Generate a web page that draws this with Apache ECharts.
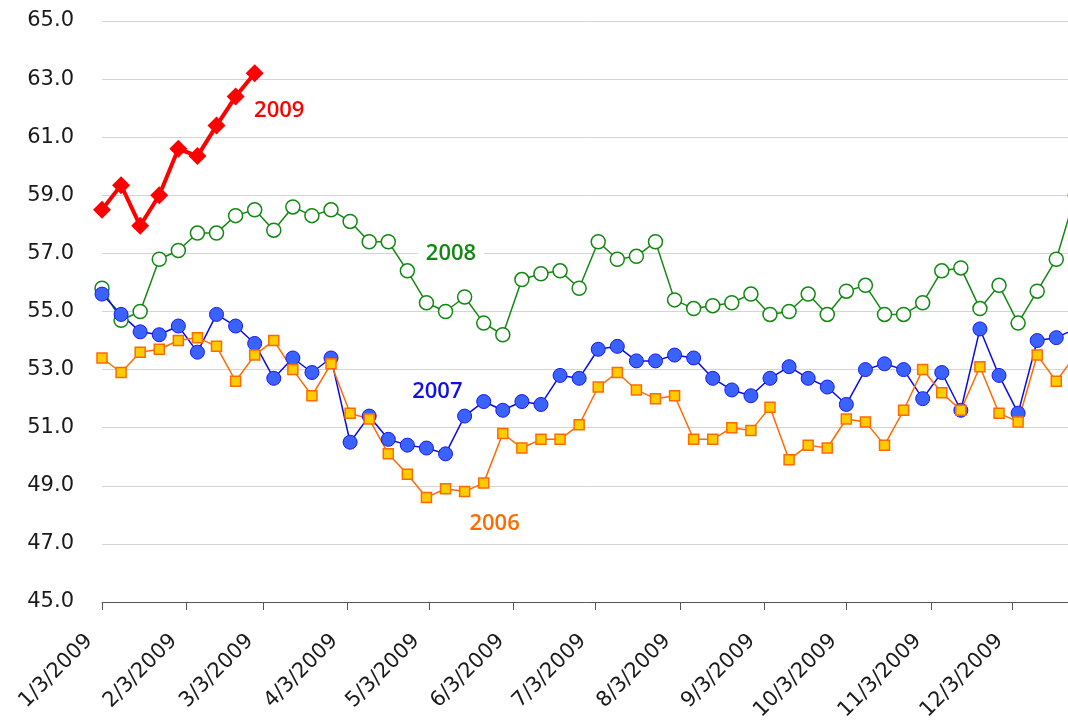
<!DOCTYPE html>
<html>
<head>
<meta charset="utf-8">
<script src="https://cdn.jsdelivr.net/npm/echarts@6/dist/echarts.min.js"></script>
<style>
html,body{margin:0;padding:0;background:#fff;overflow:hidden;}
#chart{width:1068px;height:723px;}
</style>
</head>
<body>
<div id="chart"></div>
<script>
// ---- data ----
var startDate = '2009-01-03';
var endDate = '2009-12-31';
var yTicks = [45, 47, 49, 51, 53, 55, 57, 59, 61, 63, 65];

var s2006 = [53.4, 52.9, 53.6, 53.7, 54.0, 54.1, 53.8, 52.6, 53.5, 54.0, 53.0, 52.1, 53.2,
  51.5, 51.3, 50.1, 49.4, 48.6, 48.9, 48.8, 49.1, 50.8, 50.3, 50.6, 50.6, 51.1,
  52.4, 52.9, 52.3, 52.0, 52.1, 50.6, 50.6, 51.0, 50.9, 51.7, 49.9, 50.4, 50.3,
  51.3, 51.2, 50.4, 51.6, 53.0, 52.2, 51.6, 53.1, 51.5, 51.2, 53.5, 52.6, 53.5];
var s2007 = [55.6, 54.9, 54.3, 54.2, 54.5, 53.6, 54.9, 54.5, 53.9, 52.7, 53.4, 52.9, 53.4,
  50.5, 51.4, 50.6, 50.4, 50.3, 50.1, 51.4, 51.9, 51.6, 51.9, 51.8, 52.8, 52.7,
  53.7, 53.8, 53.3, 53.3, 53.5, 53.4, 52.7, 52.3, 52.1, 52.7, 53.1, 52.7, 52.4,
  51.8, 53.0, 53.2, 53.0, 52.0, 52.9, 51.6, 54.4, 52.8, 51.5, 54.0, 54.1, 54.4];
var s2008 = [55.8, 54.7, 55.0, 56.8, 57.1, 57.7, 57.7, 58.3, 58.5, 57.8, 58.6, 58.3, 58.5,
  58.1, 57.4, 57.4, 56.4, 55.3, 55.0, 55.5, 54.6, 54.2, 56.1, 56.3, 56.4, 55.8,
  57.4, 56.8, 56.9, 57.4, 55.4, 55.1, 55.2, 55.3, 55.6, 54.9, 55.0, 55.6, 54.9,
  55.7, 55.9, 54.9, 54.9, 55.3, 56.4, 56.5, 55.1, 55.9, 54.6, 55.7, 56.8, 59.0];
var s2009 = [58.5, 59.35, 57.95, 59.0, 60.6, 60.35, 61.4, 62.4, 63.2];

var seriesNames = ['2006', '2007', '2008', '2009'];
// label anchor points (date, value) for the series name annotations
var labelAnchors = {
  '2009': ['2009-03-09', 61.9],
  '2008': ['2009-05-11', 57.0],
  '2007': ['2009-05-06', 52.25],
  '2006': ['2009-05-27', 47.7]
};

// ---- helpers ----
function parseD(s){ var p = s.split('-'); return new Date(Date.UTC(+p[0], +p[1]-1, +p[2])); }
function fmt(d){ return d.getUTCFullYear() + '-' + String(d.getUTCMonth()+1).padStart(2,'0') + '-' + String(d.getUTCDate()).padStart(2,'0'); }
var days = [];
for (var d = parseD(startDate); d <= parseD(endDate); d = new Date(d.getTime() + 86400000)) days.push(fmt(d));
function weekDates(n){ var out = []; var d0 = parseD(startDate); for (var i = 0; i < n; i++) out.push(fmt(new Date(d0.getTime() + i*7*86400000))); return out; }
function pairs(vals){ var w = weekDates(vals.length); return vals.map(function(v,i){ return [w[i], v]; }); }
function isThird(val){ return val.slice(8) === '03'; }
function mdy(val){ var p = val.split('-'); return (+p[1]) + '/' + (+p[2]) + '/' + p[0]; }

var AXISFONT = '"DejaVu Sans", sans-serif';
var FONT = '"Open Sans", "Noto Sans", sans-serif';
function nameLabel(name, color, bg){
  return {
    symbol: 'circle', symbolSize: 0, silent: true,
    label: {
      show: true, position: 'inside', formatter: name, color: color,
      fontFamily: FONT, fontWeight: 600, fontSize: 22,
      backgroundColor: bg ? '#ffffff' : 'transparent', padding: [0, 8]
    },
    data: [{ coord: labelAnchors[name] }]
  };
}

var chart = echarts.init(document.getElementById('chart'), null, {renderer: 'canvas'});
chart.setOption({
  animation: false,
  backgroundColor: '#ffffff',
  grid: { left: 102, width: 987, top: 21, height: 581, containLabel: false, outerBoundsMode: 'none' },
  xAxis: {
    type: 'category', data: days, boundaryGap: false,
    axisLine: { show: true, lineStyle: { color: '#555', width: 1 } },
    axisTick: { show: true, length: 8, interval: function(i, v){ return isThird(v); }, lineStyle: { color: '#555' } },
    axisLabel: { show: true, rotate: 45, interval: function(i, v){ return isThird(v); }, formatter: mdy,
      fontFamily: AXISFONT, fontSize: 21, color: '#1a1a1a', margin: 23, padding: [0, 18, 0, 0] },
    splitLine: { show: false }
  },
  yAxis: {
    type: 'value', min: yTicks[0], max: yTicks[yTicks.length-1], interval: 2,
    axisLine: { show: false }, axisTick: { show: false },
    axisLabel: { formatter: function(v){ return v.toFixed(1); }, fontFamily: AXISFONT, fontSize: 21, color: '#1a1a1a', margin: 28 },
    splitLine: { lineStyle: { color: '#d4d4d4', width: 1 } }
  },
  series: [
    {
      name: '2008', type: 'line', data: pairs(s2008), showAllSymbol: true,
      symbol: 'circle', symbolSize: 14,
      lineStyle: { color: '#128812', width: 1.5 },
      itemStyle: { color: '#ffffff', borderColor: '#128812', borderWidth: 1.5 },
      markPoint: nameLabel('2008', '#128812', true)
    },
    {
      name: '2007', type: 'line', data: pairs(s2007), showAllSymbol: true,
      symbol: 'circle', symbolSize: 14,
      lineStyle: { color: '#0a0ae6', width: 1.5 },
      itemStyle: { color: '#3a62ff', borderColor: '#1a1af0', borderWidth: 1 },
      markPoint: nameLabel('2007', '#1010e6', false)
    },
    {
      name: '2006', type: 'line', data: pairs(s2006), showAllSymbol: true,
      symbol: 'rect', symbolSize: 10,
      lineStyle: { color: '#ff6a00', width: 1.5 },
      itemStyle: { color: '#ffcc00', borderColor: '#ff6a00', borderWidth: 1.5 },
      markPoint: nameLabel('2006', '#ff6a00', false)
    },
    {
      name: '2009', type: 'line', data: pairs(s2009), showAllSymbol: true,
      symbol: 'diamond', symbolSize: 18,
      lineStyle: { color: '#ff0000', width: 4 },
      itemStyle: { color: '#ff0000', borderColor: '#ff0000', borderWidth: 0 },
      markPoint: nameLabel('2009', '#ff0000', false)
    }
  ]
});
</script>
</body>
</html>
